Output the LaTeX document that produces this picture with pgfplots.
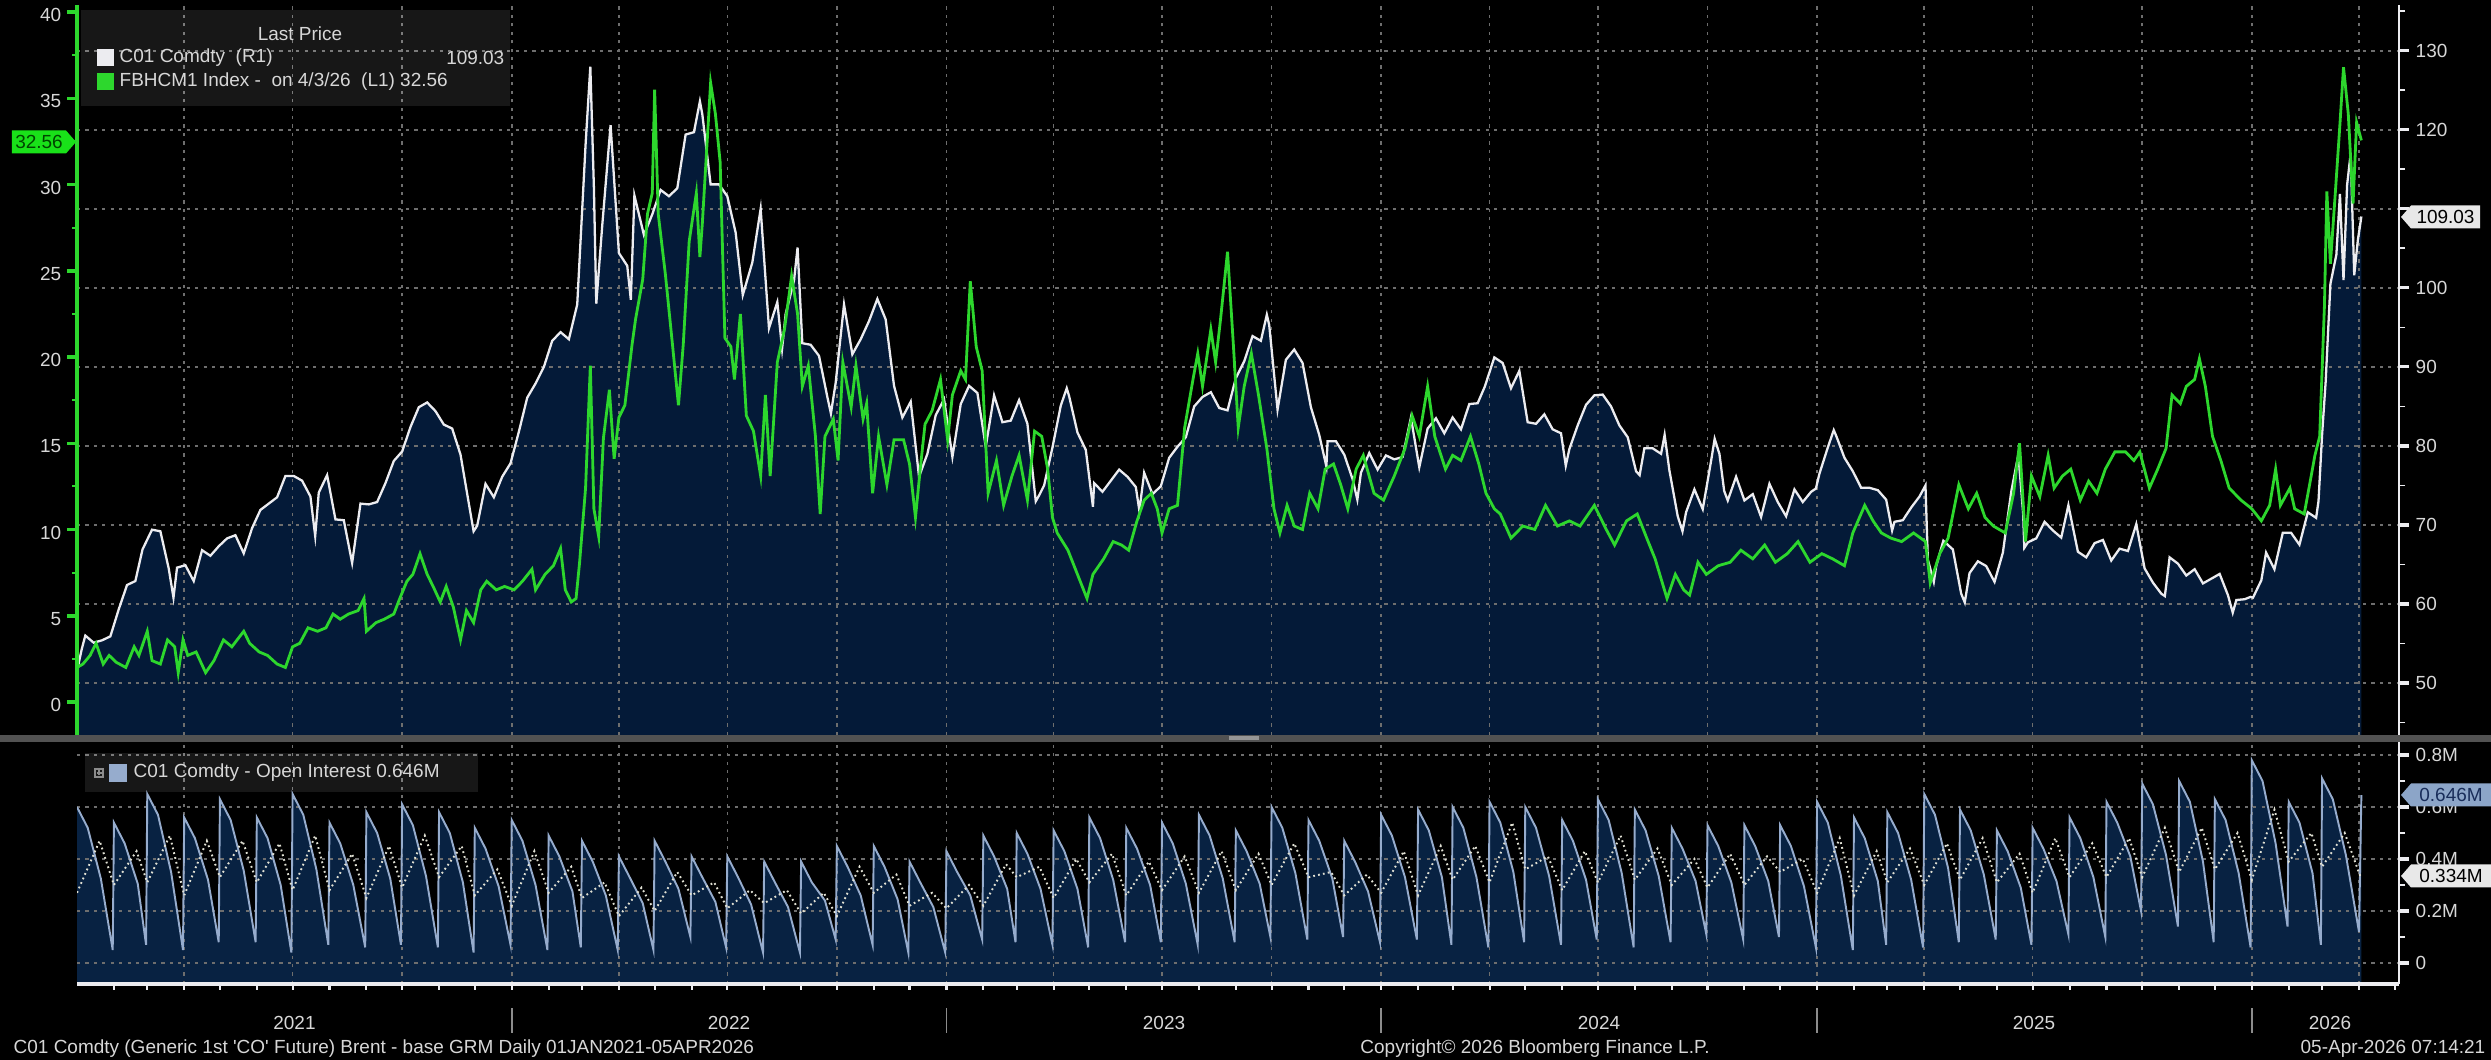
\documentclass[border=0pt]{standalone}
\usepackage{pgfplots}
\pgfplotsset{compat=1.18}
\usepackage{pgfplotstable}
\usepackage{fontspec}
\setmainfont{Liberation Sans}
\definecolor{navytop}{RGB}{4,26,56}
\definecolor{navybot}{RGB}{8,34,66}
\definecolor{bbgreen}{RGB}{45,215,45}
\definecolor{bbwhite}{RGB}{236,236,240}
\definecolor{oiblue}{RGB}{150,172,205}
\definecolor{dotcol}{RGB}{225,225,212}
\definecolor{gridgray}{RGB}{110,110,110}
\definecolor{lbl}{RGB}{215,215,215}
\definecolor{flaggreen}{RGB}{25,225,25}
\definecolor{flagtxtg}{RGB}{0,70,0}
\definecolor{flaggray}{RGB}{232,232,232}
\definecolor{flagblue}{RGB}{140,165,200}
\definecolor{flagtxtb}{RGB}{25,45,90}
\definecolor{bandgray}{RGB}{82,82,82}
\definecolor{handle}{RGB}{150,150,150}
\definecolor{sepgray}{RGB}{140,140,140}
\newcommand\bb{\fontsize{5.4pt}{6.2pt}\selectfont}

\pgfplotstableread{
d v
0 51.5
4 54.3
7 56.0
14 55.1
21 55.4
28 55.9
35 59.3
42 62.4
49 62.9
55 66.9
63 69.4
70 69.2
77 64.5
81 60.8
84 64.6
91 64.9
98 62.9
105 66.8
112 66.1
119 67.3
126 68.3
133 68.7
140 66.4
147 69.6
154 71.9
161 72.7
168 73.5
175 76.2
182 76.2
189 75.6
196 73.6
200 68.6
203 74.1
210 76.3
217 70.7
224 70.6
231 65.2
238 72.7
245 72.6
252 72.9
259 75.3
266 78.1
273 79.3
280 82.4
287 84.9
294 85.5
301 84.4
308 82.7
315 82.2
322 78.9
329 72.7
333 69.2
336 69.9
343 75.2
350 73.5
357 76.1
364 77.8
371 81.8
378 86.1
385 87.9
392 90.0
399 93.3
406 94.4
413 93.5
420 97.9
427 118.1
431 128.0
434 112.7
436 98.0
441 107.9
448 120.6
455 104.4
462 102.8
465 98.5
468 111.7
476 106.7
483 109.3
490 112.4
497 111.6
504 112.6
511 119.4
518 119.7
523 123.6
525 122.0
532 113.1
539 113.1
546 111.6
553 107.0
559 99.1
567 103.2
574 110.0
581 94.9
588 98.2
592 92.3
595 96.7
602 100.9
605 105.1
609 93.0
616 92.8
623 91.4
630 86.2
633 84.1
637 88.0
644 97.9
651 91.6
658 93.5
665 95.8
672 98.6
679 96.0
686 87.6
693 83.6
700 85.6
707 76.1
714 79.0
721 83.9
728 85.9
735 78.6
742 85.3
749 87.6
756 86.7
763 79.9
770 86.4
777 83.0
784 83.2
791 85.8
798 82.8
805 73.0
808 73.8
812 75.0
819 79.8
826 85.1
831 87.3
833 86.3
840 81.7
847 79.5
853 72.3
854 75.3
861 74.2
868 75.6
875 77.0
882 76.1
889 74.8
892 71.8
896 76.6
903 73.9
910 74.9
917 78.5
924 79.9
931 81.1
938 85.0
945 86.2
952 86.8
959 84.8
966 84.5
973 88.6
980 90.7
987 93.9
994 93.3
999 96.6
1001 95.3
1008 84.6
1015 90.9
1022 92.2
1029 90.5
1036 84.9
1043 81.4
1049 77.4
1050 80.6
1057 80.6
1064 78.9
1071 75.8
1075 73.2
1078 76.6
1085 79.1
1092 77.0
1099 78.8
1106 78.3
1113 78.6
1120 83.6
1127 77.3
1134 82.2
1141 83.5
1148 81.6
1155 83.6
1162 82.1
1169 85.3
1176 85.4
1182 87.5
1190 91.2
1197 90.5
1204 87.3
1211 89.5
1218 83.0
1225 82.8
1232 84.0
1239 82.1
1246 81.6
1250 77.5
1253 79.6
1260 82.6
1267 85.2
1274 86.4
1281 86.5
1288 85.0
1295 82.6
1302 81.1
1309 76.8
1312 76.3
1316 79.7
1323 79.7
1330 79.0
1333 81.4
1337 76.9
1344 71.1
1348 69.2
1351 71.6
1358 74.5
1365 72.0
1372 78.1
1375 80.9
1379 79.0
1383 74.3
1386 73.1
1393 76.1
1400 73.1
1407 73.9
1414 71.0
1421 75.2
1428 72.9
1435 71.1
1442 74.5
1449 72.9
1456 74.2
1460 74.6
1463 76.5
1470 79.8
1475 82.0
1477 81.3
1484 78.5
1491 76.8
1498 74.7
1505 74.7
1512 74.4
1519 73.2
1524 69.3
1526 70.4
1533 70.6
1540 72.2
1547 73.6
1552 75.0
1554 65.6
1559 62.8
1561 64.8
1567 68.0
1575 66.9
1582 61.3
1585 60.2
1589 63.9
1596 65.4
1603 64.8
1610 62.8
1617 66.5
1624 74.2
1630 78.9
1634 71.5
1635 67.1
1638 67.8
1645 68.3
1652 70.4
1659 69.3
1666 68.4
1672 72.5
1680 66.6
1687 65.9
1694 67.7
1701 68.1
1708 65.5
1715 67.0
1722 66.7
1729 70.1
1736 64.5
1743 62.7
1750 61.3
1753 61.0
1757 65.9
1764 65.1
1771 63.6
1778 64.4
1785 62.6
1792 63.2
1799 63.8
1806 61.1
1810 58.9
1813 60.5
1820 60.6
1825 60.9
1827 60.8
1834 63.0
1838 66.5
1845 64.4
1852 69.0
1859 69.0
1866 67.5
1873 71.6
1880 70.9
1882 73.0
1885 81.4
1888 88.1
1892 100.5
1897 104.2
1900 111.9
1903 101.0
1906 113.0
1909 117.0
1912 101.6
1915 106.0
1918 109.03
}\brent

\pgfplotstableread{
d v
0 2.0
5 2.2
11 2.7
16 3.4
22 2.2
27 2.7
33 2.3
41 2.0
48 3.2
52 2.7
59 4.1
63 2.4
70 2.2
76 3.6
82 3.2
85 1.7
89 3.6
93 2.7
100 2.9
108 1.7
115 2.4
123 3.6
130 3.2
140 4.1
145 3.4
153 2.9
160 2.7
168 2.2
175 2.0
181 3.2
187 3.4
194 4.3
202 4.1
209 4.3
215 5.1
221 4.8
228 5.1
236 5.3
241 6.0
243 4.1
251 4.6
258 4.8
266 5.1
271 6.0
277 7.0
282 7.4
288 8.6
294 7.4
299 6.7
305 5.8
310 6.7
316 5.5
322 3.6
327 5.3
333 4.6
339 6.5
344 7.0
352 6.5
359 6.7
367 6.5
374 7.0
382 7.7
385 6.5
393 7.4
400 7.9
406 8.9
410 6.5
415 5.8
419 6.0
422 8.1
427 12.4
431 19.5
434 11.2
438 9.6
442 15.3
447 18.1
451 14.1
455 16.5
460 17.2
466 20.7
469 22.2
475 24.5
479 28.3
483 29.5
485 35.5
488 28.3
494 24.8
500 20.7
505 17.2
509 20.7
514 26.7
520 29.5
523 25.8
525 27.7
532 35.9
536 34.1
540 31.3
544 21.1
549 20.6
552 18.7
557 22.5
562 16.6
568 15.7
574 13.1
578 17.8
582 13.1
588 19.7
594 21.6
600 24.7
605 22.5
609 18.3
614 19.5
620 15.4
624 10.9
628 15.4
635 16.4
639 14.0
643 19.7
650 17.1
654 19.5
660 16.4
663 17.3
668 12.1
673 15.4
680 12.6
686 15.2
694 15.2
699 13.8
704 10.7
708 13.5
712 16.1
718 16.9
725 18.7
731 15.2
735 17.8
742 19.2
746 18.7
750 24.4
755 20.6
760 19.2
765 12.1
772 14.0
778 11.4
785 13.1
791 14.3
798 11.7
804 15.7
810 15.4
815 13.5
819 10.7
823 9.8
832 8.8
840 7.4
848 6.0
853 7.4
862 8.3
870 9.3
877 9.1
883 8.8
890 10.5
896 11.7
902 12.1
907 11.2
911 9.8
917 11.2
924 11.4
930 15.9
937 18.7
941 20.2
945 18.3
952 21.6
956 19.7
960 22.1
966 26.1
971 20.6
975 15.9
980 18.3
986 20.2
992 17.8
999 14.7
1005 11.2
1010 9.8
1016 11.4
1022 10.2
1029 10.0
1035 12.1
1042 11.2
1048 13.5
1055 13.8
1061 12.6
1067 11.2
1074 13.5
1080 14.3
1089 12.1
1097 11.7
1106 13.1
1115 14.7
1121 16.6
1127 15.4
1134 18.3
1140 15.4
1149 13.5
1155 14.3
1162 14.0
1170 15.4
1177 13.8
1183 12.1
1190 11.2
1195 10.9
1204 9.5
1214 10.2
1224 10.0
1233 11.4
1243 10.2
1253 10.5
1262 10.2
1274 11.4
1284 10.0
1291 9.1
1301 10.5
1310 10.9
1318 9.5
1325 8.3
1335 6.0
1342 7.4
1349 6.5
1354 6.2
1361 8.1
1368 7.4
1378 7.9
1388 8.1
1397 8.8
1407 8.3
1417 9.1
1426 8.1
1436 8.6
1445 9.3
1455 8.1
1465 8.6
1474 8.3
1484 7.9
1491 9.8
1501 11.4
1508 10.5
1515 9.8
1523 9.5
1532 9.3
1542 9.8
1552 9.3
1556 6.9
1564 8.6
1571 9.5
1580 12.6
1588 11.2
1595 12.1
1602 10.7
1609 10.2
1619 9.8
1626 12.1
1631 15.0
1636 9.3
1641 13.1
1648 11.9
1655 14.3
1660 12.4
1667 13.1
1674 13.5
1682 11.7
1689 12.8
1696 12.1
1703 13.5
1711 14.5
1720 14.5
1727 14.0
1732 14.5
1740 12.4
1747 13.5
1754 14.7
1759 17.8
1766 17.3
1771 18.3
1778 18.7
1782 19.9
1787 18.3
1793 15.4
1800 14.0
1807 12.4
1817 11.7
1826 11.2
1834 10.5
1841 11.4
1846 13.5
1850 11.4
1858 12.4
1862 11.2
1870 10.9
1874 12.4
1879 14.3
1883 15.4
1887 23.0
1889 29.6
1892 25.4
1896 29.4
1900 33.5
1903 36.8
1907 34.1
1911 28.9
1914 33.6
1918 32.56
}\green

\pgfplotstableread{
d v
0 .60
9 .52
20 .325
30 .05
31 .54
40 .46
51 .305
58 .07
59 .65
68 .57
79 .35
89 .05
90 .56
99 .48
110 .32
119 .08
120 .63
129 .55
140 .355
150 .08
151 .56
160 .48
171 .30
180 .04
181 .65
190 .57
201 .36
211 .07
212 .54
221 .46
232 .30
242 .06
243 .58
252 .50
263 .325
272 .07
273 .61
282 .53
293 .335
303 .06
304 .58
313 .50
324 .31
333 .04
334 .52
343 .44
354 .295
364 .07
365 .55
374 .47
385 .30
395 .05
396 .49
405 .41
416 .275
423 .06
424 .47
433 .39
444 .26
454 .05
455 .41
464 .33
475 .23
484 .05
485 .47
494 .39
505 .285
515 .10
516 .41
525 .33
536 .235
545 .06
546 .41
555 .33
566 .225
576 .04
577 .39
586 .31
597 .215
607 .04
608 .39
617 .31
628 .24
637 .09
638 .45
647 .37
658 .26
668 .07
669 .45
678 .37
689 .245
698 .04
699 .39
708 .31
719 .215
729 .04
730 .43
739 .35
750 .26
760 .09
761 .49
770 .41
781 .285
788 .08
789 .50
798 .42
809 .285
819 .07
820 .51
829 .43
840 .285
849 .06
850 .56
859 .48
870 .32
880 .08
881 .52
890 .44
901 .30
910 .08
911 .54
920 .46
931 .305
941 .07
942 .57
951 .49
962 .325
972 .08
973 .51
982 .43
993 .305
1002 .10
1003 .60
1012 .52
1023 .345
1033 .09
1034 .55
1043 .47
1054 .325
1063 .10
1064 .47
1073 .39
1084 .275
1094 .08
1095 .57
1104 .49
1115 .33
1125 .09
1126 .59
1135 .51
1146 .33
1154 .07
1155 .60
1164 .52
1175 .33
1185 .06
1186 .62
1195 .54
1206 .35
1215 .08
1216 .60
1225 .52
1236 .335
1246 .07
1247 .55
1256 .47
1267 .32
1276 .09
1277 .63
1286 .55
1297 .345
1307 .06
1308 .59
1317 .51
1328 .335
1338 .08
1339 .52
1348 .44
1359 .315
1368 .11
1369 .53
1378 .45
1389 .31
1399 .09
1400 .53
1409 .45
1420 .315
1429 .10
1430 .53
1439 .45
1450 .295
1460 .06
1461 .62
1470 .54
1481 .335
1491 .05
1492 .56
1501 .48
1512 .315
1519 .07
1520 .58
1529 .50
1540 .32
1550 .06
1551 .65
1560 .57
1571 .365
1580 .08
1581 .59
1590 .51
1601 .34
1611 .09
1612 .51
1621 .43
1632 .29
1641 .07
1642 .52
1651 .44
1662 .315
1672 .11
1673 .56
1682 .48
1693 .33
1703 .10
1704 .62
1713 .54
1724 .41
1733 .20
1734 .69
1743 .61
1754 .415
1764 .14
1765 .70
1774 .62
1785 .39
1794 .08
1795 .63
1804 .55
1815 .345
1825 .06
1826 .78
1835 .70
1846 .46
1856 .14
1857 .62
1866 .54
1877 .345
1884 .07
1885 .71
1894 .63
1905 .415
1916 .12
1918 .646
}\oi

\pgfplotstableread{
d v
0 .27
19 .47
31 .30
50 .43
59 .31
78 .49
90 .26
109 .47
120 .33
139 .47
151 .31
170 .46
181 .28
200 .49
212 .28
231 .42
243 .25
262 .45
273 .29
292 .49
304 .33
323 .45
334 .26
353 .36
365 .22
384 .43
396 .27
415 .37
424 .25
443 .31
455 .18
474 .29
485 .20
504 .35
516 .26
535 .31
546 .21
565 .28
577 .23
596 .28
608 .19
627 .27
638 .18
657 .37
669 .27
688 .34
699 .22
718 .27
730 .21
749 .30
761 .22
780 .38
789 .33
808 .37
820 .25
839 .40
850 .31
869 .42
881 .26
900 .39
911 .28
930 .41
942 .27
961 .43
973 .28
992 .42
1003 .30
1022 .46
1034 .33
1053 .35
1064 .26
1083 .34
1095 .27
1114 .43
1126 .26
1145 .45
1155 .32
1174 .45
1186 .31
1205 .54
1216 .36
1235 .41
1247 .28
1266 .43
1277 .31
1296 .49
1308 .32
1327 .44
1339 .30
1358 .40
1369 .29
1388 .42
1400 .30
1419 .41
1430 .35
1449 .40
1461 .27
1480 .48
1492 .26
1511 .43
1520 .31
1539 .44
1551 .30
1570 .46
1581 .32
1600 .48
1612 .31
1631 .42
1642 .27
1661 .48
1673 .33
1692 .46
1704 .33
1723 .48
1734 .33
1753 .52
1765 .35
1784 .52
1795 .36
1814 .50
1826 .32
1845 .59
1857 .39
1876 .50
1885 .37
1904 .50
1917 .334
}\oidot

\begin{document}
\begin{tikzpicture}
\fill[black] (0,0) rectangle (24.91,10.60);
\pgfplotsset{
  toppanel/.style={at={(0.77cm,3.25cm)}, anchor=south west, scale only axis,
    width=23.22cm, height=7.30cm, xmin=0, xmax=1949.6},
  botpanel/.style={at={(0.77cm,0.76cm)}, anchor=south west, scale only axis,
    width=23.22cm, height=2.42cm, xmin=0, xmax=1949.6, ymin=-0.0808, ymax=0.85},
  bbgrid/.style={grid style={gridgray, line width=0.45pt, dash pattern=on 0.9pt off 1.5pt}},
}
% --- Brent fill
\begin{axis}[toppanel, ymin=43.42, ymax=135.8, axis lines=none]
\addplot[fill=navytop, draw=none] table[x=d,y=v]{\brent} |- (axis cs:0,43.42) -- cycle;
\end{axis}
% --- Brent line, grid, right axis
\begin{axis}[toppanel, ymin=43.42, ymax=135.8, bbgrid,
  axis y line*=right, axis x line*=bottom, x axis line style={draw=none},
  y axis line style={bbwhite, line width=0.6pt},
  xtick={90,181,273,365,455,546,638,730,820,911,1003,1095,1186,1277,1369,1461,1551,1642,1734,1826,1916},
  xticklabels={}, major x tick style={draw=none},
  ytick={50,60,...,130}, yticklabels={50,60,70,80,90,100,{},120,130},
  minor ytick={45,55,...,135},
  ymajorgrids, xmajorgrids,
  tick align=outside, major tick length=0.1cm, minor tick length=0.06cm,
  major y tick style={bbwhite, line width=0.9pt}, minor y tick style={bbwhite, line width=0.5pt},
  yticklabel style={font=\bb, text=lbl, anchor=west, inner sep=0pt, xshift=0.06cm}]
\addplot[bbwhite, line width=0.65pt] table[x=d,y=v]{\brent};
\end{axis}
% --- green, left axis
\begin{axis}[toppanel, ymin=-1.913, ymax=40.41,
  axis y line*=left, axis x line=none,
  y axis line style={bbgreen, line width=1pt},
  ytick={0,5,...,40}, yticklabels={0,5,10,15,20,25,30,35,40},
  minor ytick={2.5,7.5,...,37.5},
  tick align=outside, major tick length=0.1cm, minor tick length=0.05cm,
  major y tick style={bbgreen, line width=1pt}, minor y tick style={bbgreen, line width=0.6pt},
  yticklabel style={font=\bb, text=lbl, anchor=east, inner sep=0pt, xshift=-0.05cm, yshift=-0.03cm}]
\addplot[bbgreen, line width=0.8pt] table[x=d,y=v]{\green};
\end{axis}
% --- open interest fill
\begin{axis}[botpanel, axis lines=none]
\addplot[fill=navybot, draw=none] table[x=d,y=v]{\oi} |- (axis cs:0,-0.0808) -- cycle;
\end{axis}
% --- open interest lines
\begin{axis}[botpanel, bbgrid,
  axis y line*=right, axis x line*=bottom,
  x axis line style={bbwhite, line width=0.9pt}, y axis line style={bbwhite, line width=0.6pt},
  xtick={90,181,273,365,455,546,638,730,820,911,1003,1095,1186,1277,1369,1461,1551,1642,1734,1826,1916},
  xticklabels={}, major x tick style={draw=none},
  minor xtick={31,59,90,120,151,181,212,243,273,304,334,365,396,424,455,485,516,546,577,608,638,669,699,730,761,789,820,850,881,911,942,973,1003,1034,1064,1095,1126,1155,1186,1216,1247,1277,1308,1339,1369,1400,1430,1461,1492,1520,1551,1581,1612,1642,1673,1704,1734,1765,1795,1826,1857,1885,1916,1946},
  minor x tick style={bbwhite, line width=0.6pt},
  ytick={0,0.2,0.4,0.6,0.8}, yticklabels={0,0.2M,0.4M,0.6M,0.8M},
  minor ytick={0.1,0.3,0.5,0.7},
  ymajorgrids, xmajorgrids,
  tick align=outside, major tick length=0.1cm, minor tick length=0.06cm,
  major y tick style={bbwhite, line width=0.9pt}, minor y tick style={bbwhite, line width=0.5pt},
  yticklabel style={font=\bb, text=lbl, anchor=west, inner sep=0pt, xshift=0.06cm}]
\addplot[oiblue, line width=0.55pt] table[x=d,y=v]{\oi};
\addplot[dotcol, line width=0.55pt, dash pattern=on 0.5pt off 0.9pt] table[x=d,y=v]{\oidot};
\end{axis}
% --- separator band
\fill[bandgray] (0,3.18) rectangle (24.91,3.25);
\fill[handle] (12.29,3.195) rectangle (12.59,3.235);
% --- years
\foreach \xx in {5.117,9.464,13.811,18.171,22.518}
  \draw[sepgray, line width=0.5pt] (\xx,0.27) -- (\xx,0.52);
\foreach \xx/\yy in {2.945/2021,7.29/2022,11.64/2023,15.99/2024,20.34/2025,23.30/2026}
  \node[font=\bb, text=lbl] at (\xx,0.37) {\yy};
% --- footer
\node[font=\bb, text=lbl, anchor=west, inner sep=0pt] at (0.13,0.11) {C01 Comdty (Generic 1st \textquotesingle CO\textquotesingle\ Future) Brent - base GRM Daily 01JAN2021-05APR2026};
\node[font=\bb, text=lbl, inner sep=0pt] at (15.35,0.11) {Copyright\textcopyright\ 2026 Bloomberg Finance L.P.};
\node[font=\bb, text=lbl, anchor=east, inner sep=0pt] at (24.86,0.11) {05-Apr-2026 07:14:21};
% --- top legend
\fill[white, opacity=0.09] (0.81,9.54) rectangle (5.10,10.50);
\node[font=\bb, text=lbl] at (3.00,10.26) {Last Price};
\fill[bbwhite] (0.97,9.935) rectangle (1.14,10.105);
\node[font=\bb, text=lbl, anchor=west, inner sep=0pt] at (1.19,10.02) {C01 Comdty\ \ (R1)};
\node[font=\bb, text=lbl, anchor=east, inner sep=0pt] at (5.05,10.02) {109.03};
\fill[bbgreen] (0.97,9.695) rectangle (1.14,9.865);
\node[font=\bb, text=lbl, anchor=west, inner sep=0pt] at (1.19,9.78) {FBHCM1 Index -\ \ on 4/3/26\ \ (L1) 32.56};
% --- bottom legend
\fill[white, opacity=0.09] (0.85,2.68) rectangle (4.78,3.07);
\draw[sepgray, line width=0.4pt] (0.95,2.83) rectangle (1.03,2.91);
\draw[sepgray, line width=0.3pt] (0.965,2.87) -- (1.015,2.87) (0.99,2.845) -- (0.99,2.895);
\fill[oiblue] (1.09,2.78) rectangle (1.27,2.96);
\node[font=\bb, text=lbl, anchor=west, inner sep=0pt] at (1.33,2.87) {C01 Comdty - Open Interest 0.646M};
% --- value flags
\fill[flaggreen] (0.12,9.065) -- (0.66,9.065) -- (0.76,9.18) -- (0.66,9.295) -- (0.12,9.295) -- cycle;
\node[font=\bb, text=flagtxtg] at (0.39,9.18) {32.56};
\fill[flaggray] (24.01,8.43) -- (24.11,8.545) -- (24.80,8.545) -- (24.80,8.315) -- (24.11,8.315) -- cycle;
\node[font=\bb, text=black] at (24.455,8.43) {109.03};
\fill[flagblue] (24.01,2.65) -- (24.11,2.765) -- (24.91,2.765) -- (24.91,2.535) -- (24.11,2.535) -- cycle;
\node[font=\bb, text=flagtxtb] at (24.51,2.65) {0.646M};
\fill[flaggray] (24.01,1.84) -- (24.11,1.955) -- (24.91,1.955) -- (24.91,1.725) -- (24.11,1.725) -- cycle;
\node[font=\bb, text=black] at (24.51,1.84) {0.334M};
\pgfresetboundingbox
\useasboundingbox (0,0) rectangle (24.91,10.60);
\end{tikzpicture}
\end{document}
